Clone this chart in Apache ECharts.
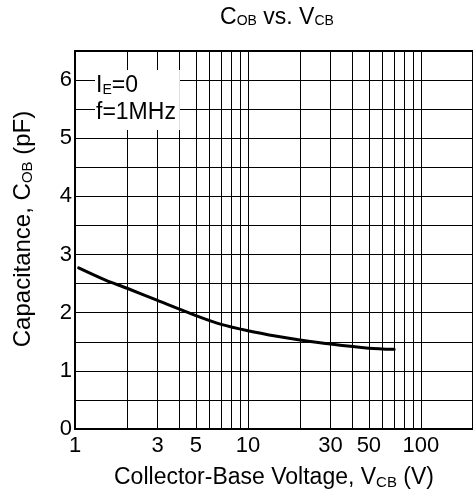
<!DOCTYPE html>
<html>
<head>
<meta charset="utf-8">
<script src="https://cdn.jsdelivr.net/npm/echarts@6/dist/echarts.min.js"></script>
<style>
html,body{margin:0;padding:0;background:#fff;}
#c{width:473px;height:495px;}
</style>
</head>
<body>
<div id="c"></div>
<script>
const vcb = [1.05, 1.5, 2, 3, 5, 7, 10, 15, 20, 30, 50, 70];
const cob = [2.77, 2.56, 2.42, 2.21, 1.95, 1.80, 1.69, 1.59, 1.53, 1.46, 1.39, 1.37];
const xGridValues = [1, 2, 3, 4, 5, 6, 7, 8, 9, 10, 20, 30, 40, 50, 60, 70, 80, 90, 100, 200];
const xTickLabels = [1, 3, 5, 10, 30, 50, 100];
const yTickLabels = [0, 1, 2, 3, 4, 5, 6];

const FONT = '"Liberation Sans", Arial, Helvetica, sans-serif';
const chart = echarts.init(document.getElementById('c'));
chart.setOption({
  animation: false,
  backgroundColor: '#fff',
  grid: { left: 75, top: 51, right: -5, bottom: 63, show: true, borderColor: '#000', borderWidth: 2, backgroundColor: 'transparent' },
  graphic: [
    {
      type: 'text', x: 277, y: 6, z: 10,
      style: {
        text: 'C{s|OB} vs. V{s|CB}', fill: '#000', align: 'center', verticalAlign: 'top',
        font: '23px ' + FONT,
        rich: { s: { fontSize: 14, fontFamily: FONT, fill: '#000', padding: [8, 0, 0, 0] } }
      }
    },
    {
      type: 'text', x: 95, y: 70, z: 10,
      style: {
        text: 'I{s|E}=0\nf=1MHz', fill: '#000', verticalAlign: 'top',
        font: '23px ' + FONT, lineHeight: 27,
        backgroundColor: '#fff', padding: [2, 4, 4, 1],
        rich: { s: { fontSize: 14, fontFamily: FONT, fill: '#000', lineHeight: 27, padding: [10, 0, 0, 0] } }
      }
    }
  ],
  xAxis: {
    type: 'log', logBase: 10, min: 1, max: 200,
    name: 'Collector-Base Voltage, V{s|CB} (V)',
    nameLocation: 'middle', nameGap: 37,
    nameTextStyle: { fontSize: 23, fontFamily: FONT, color: '#000',
      rich: { s: { fontSize: 15, fontFamily: FONT, color: '#000', padding: [9, 0, 0, 0] } } },
    axisLine: { show: true, lineStyle: { color: '#000', width: 2 } },
    axisTick: { show: false, customValues: xGridValues },
    splitLine: { show: true, lineStyle: { color: '#000', width: 1 } },
    axisLabel: { customValues: xTickLabels, fontSize: 22, fontFamily: FONT, color: '#000', margin: 6 }
  },
  yAxis: {
    type: 'value', min: 0, max: 6.5, interval: 0.5,
    name: 'Capacitance, C{s|OB} (pF)',
    nameLocation: 'middle', nameGap: 40, nameRotate: 90,
    nameTextStyle: { fontSize: 24, fontFamily: FONT, color: '#000', padding: [0, 0, 0, 22],
      rich: { s: { fontSize: 15, fontFamily: FONT, color: '#000', padding: [9, 0, 0, 0] } } },
    axisLine: { show: true, lineStyle: { color: '#000', width: 2 } },
    axisTick: { show: false },
    splitLine: { show: true, lineStyle: { color: '#000', width: 1 } },
    axisLabel: { customValues: yTickLabels, fontSize: 22, fontFamily: FONT, color: '#000', margin: 3, padding: [0, 0, 4, 0] }
  },
  series: [{
    type: 'line', smooth: 0.3, showSymbol: false, symbol: 'none',
    data: vcb.map((v, i) => [v, cob[i]]),
    lineStyle: { color: '#000', width: 3, cap: 'round' },
    z: 5
  }]
});
</script>
</body>
</html>
